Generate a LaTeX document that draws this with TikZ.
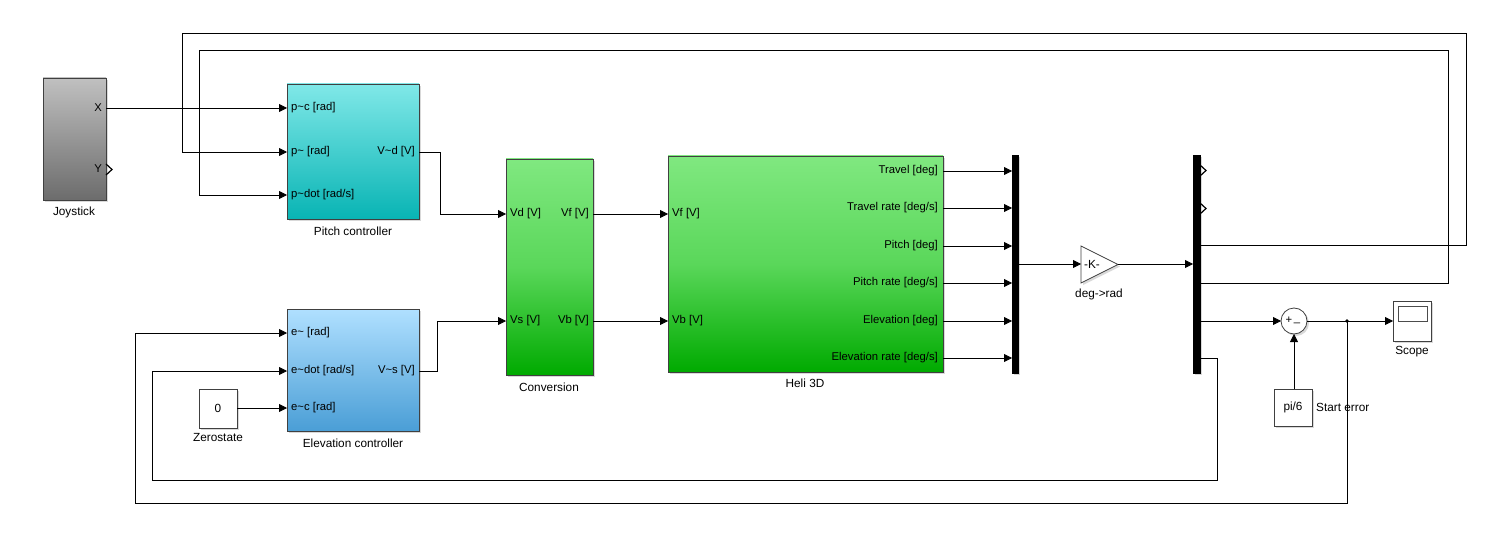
\documentclass[tikz,border=0pt]{standalone}
\usepackage{fontspec}
\setmainfont{Liberation Sans}
\usetikzlibrary{arrows.meta,shadows}
\begin{document}
\begin{tikzpicture}[x=1pt,y=-1pt,
  font=\fontsize{11.8}{13}\selectfont,
  blk/.style={draw=black!75, line width=0.8pt, inner sep=0pt, outer sep=0pt,
    drop shadow={opacity=0.3,shadow xshift=2pt,shadow yshift=-2pt}},
  wire/.style={line width=0.8pt},
  sig/.style={wire, -{Triangle[length=8pt,width=8pt]}},
  plab/.style={inner sep=0pt, font=\fontsize{11.3}{12}\selectfont},
  blab/.style={inner sep=0pt},
  openport/.style={line width=1.2pt, line join=miter},
]
\useasboundingbox (0,0) rectangle (1495,540);

% ---------- blocks ----------
\node[blk, minimum width=63pt, minimum height=122pt, top color={rgb,255:red,192;green,192;blue,192}, bottom color={rgb,255:red,108;green,108;blue,108}] (joy) at (74.5,139) {};
\node[blk, minimum width=132pt, minimum height=135pt, top color={rgb,255:red,128;green,232;blue,232}, bottom color={rgb,255:red,8;green,180;blue,180}] (pc) at (353,151.5) {};
\node[blk, minimum width=132pt, minimum height=122pt, top color={rgb,255:red,176;green,224;blue,255}, bottom color={rgb,255:red,74;green,158;blue,214}] (ec) at (353,370) {};
\node[blk, minimum width=38pt, minimum height=39pt, fill=white] (zero) at (218,408.5) {0};
\node[blk, minimum width=87pt, minimum height=216pt, top color={rgb,255:red,128;green,232;blue,128}, bottom color={rgb,255:red,0;green,170;blue,0}, middle color={rgb,255:red,90;green,215;blue,90}] (conv) at (549.5,267) {};
\node[blk, minimum width=275pt, minimum height=216pt, top color={rgb,255:red,128;green,232;blue,128}, bottom color={rgb,255:red,0;green,170;blue,0}, middle color={rgb,255:red,90;green,215;blue,90}] (heli) at (805.5,264) {};
\node[blk, minimum width=6pt, minimum height=218pt, fill=black, draw=black] (mux) at (1015,264) {};
\node[blk, minimum width=7pt, minimum height=218pt, fill=black, draw=black] (demux) at (1196.5,264) {};
\node[blk, circle, minimum size=26pt, fill=white] (sum) at (1294,321) {};
\node[blk, minimum width=38pt, minimum height=37pt, fill=white] (pi6) at (1293,407.5) {pi/6};
\node[blk, minimum width=38pt, minimum height=40pt, fill=white] (scope) at (1412,321) {};
\node[draw=black!70, line width=0.8pt, fill=white, minimum width=29pt, minimum height=15pt, inner sep=0pt] (screen) at (1412.5,313.5) {};
\fill[black!30, drop shadow={opacity=0.3,shadow xshift=2pt,shadow yshift=-2pt}] (1081,246) -- (1118,264.5) -- (1081,283) -- cycle;
\draw[line width=0.8pt, draw=black!75, fill=white] (1081,246) -- (1118,264.5) -- (1081,283) -- cycle;
\node[blab] (gaink) at (1092,264) {-K-};
\coordinate (gainin) at (1081,264);
\coordinate (gainout) at (1118,264);

% ---------- block labels ----------
\node[blab] (joyl) at (74,212) {Joystick};
\node[blab] (pcl) at (353,231) {Pitch controller};
\node[blab] (ecl) at (353,443) {Elevation controller};
\node[blab] (zerol) at (218,437) {Zerostate};
\node[blab] (convl) at (549,387) {Conversion};
\node[blab] (helil) at (805,383) {Heli 3D};
\node[blab] (gainl) at (1099,294) {deg->rad};
\node[blab] (scopel) at (1412,352) {Scope};
\node[blab, anchor=west] (pi6l) at (1316,407) {Start error};
\node[plab] (sumplus) at (1289,320) {+};
\node[plab] (summinus) at (1297,323) {\_};

% ---------- port labels ----------
\node[plab, anchor=east] (joyX) at (102,108) {X};
\node[plab, anchor=east] (joyY) at (102,169) {Y};
\node[plab, anchor=west] (pcl1) at (291,108) {p\textasciitilde c [rad]};
\node[plab, anchor=west] (pcl2) at (291,152) {p\textasciitilde\ [rad]};
\node[plab, anchor=west] (pcl3) at (291,195) {p\textasciitilde dot [rad/s]};
\node[plab, anchor=east] (pclo) at (415,152) {V\textasciitilde d [V]};
\node[plab, anchor=west] (ecl1) at (291,333) {e\textasciitilde\ [rad]};
\node[plab, anchor=west] (ecl2) at (291,371) {e\textasciitilde dot [rad/s]};
\node[plab, anchor=west] (ecl3) at (291,408) {e\textasciitilde c [rad]};
\node[plab, anchor=east] (eclo) at (415,371) {V\textasciitilde s [V]};
\node[plab, anchor=west] (cvl1) at (510,214) {Vd [V]};
\node[plab, anchor=west] (cvl2) at (510,321) {Vs [V]};
\node[plab, anchor=east] (cvo1) at (589,214) {Vf [V]};
\node[plab, anchor=east] (cvo2) at (589,321) {Vb [V]};
\node[plab, anchor=west] (hl1) at (672,214) {Vf [V]};
\node[plab, anchor=west] (hl2) at (672,321) {Vb [V]};
\node[plab, anchor=east] (ho1) at (938,171) {Travel [deg]};
\node[plab, anchor=east] (ho2) at (938,208) {Travel rate [deg/s]};
\node[plab, anchor=east] (ho3) at (938,246) {Pitch [deg]};
\node[plab, anchor=east] (ho4) at (938,283) {Pitch rate [deg/s]};
\node[plab, anchor=east] (ho5) at (938,321) {Elevation [deg]};
\node[plab, anchor=east] (ho6) at (938,358) {Elevation rate [deg/s]};

% ---------- port coordinates ----------
\coordinate (joyXo) at (106,108);
\coordinate (joyYo) at (106,169);
\coordinate (pcI1) at (287,108);
\coordinate (pcI2) at (287,152);
\coordinate (pcI3) at (287,195);
\coordinate (pcO) at (419,152);
\coordinate (ecI1) at (287,333);
\coordinate (ecI2) at (287,371);
\coordinate (ecI3) at (287,408);
\coordinate (ecO) at (419,371);
\coordinate (cvI1) at (506,214);
\coordinate (cvI2) at (506,321);
\coordinate (cvO1) at (593,214);
\coordinate (cvO2) at (593,321);
\coordinate (hI1) at (668,214);
\coordinate (hI2) at (668,321);
\foreach \i/\y in {1/171,2/208,3/246,4/283,5/321,6/358}{
  \coordinate (hO\i) at (943,\y);
  \coordinate (mI\i) at (1012,\y);
}
\coordinate (mO) at (1018,264);
\coordinate (dI) at (1193,264);
\foreach \i/\y in {1/170,2/208,3/245,4/283,5/321,6/358}{
  \coordinate (dO\i) at (1200,\y);
}
\coordinate (sumI) at (1281,321);
\coordinate (sumB) at (1294,334);
\coordinate (sumO) at (1307,321);
\coordinate (scI) at (1393,321);
\coordinate (piT) at (1294,389);
\coordinate (zeroO) at (237,408);
\coordinate (jn) at (1347,321);

% ---------- open ports ----------
\draw[openport] (106,164) -- (112,169.5) -- (106,175);
\draw[openport] (1200,165) -- (1206,170.5) -- (1200,176);
\draw[openport] (1200,203) -- (1206,208.5) -- (1200,214);

% ---------- connectors ----------
\draw[sig] (joyXo) -- (pcI1);
\draw[sig] (pcO) -- (440,152) -- (440,214) -- (cvI1);
\draw[sig] (ecO) -- (437,371) -- (437,321) -- (cvI2);
\draw[sig] (cvO1) -- (hI1);
\draw[sig] (cvO2) -- (hI2);
\foreach \i in {1,...,6}{ \draw[sig] (hO\i) -- (mI\i); }
\draw[sig] (mO) -- (gainin);
\draw[sig] (gainout) -- (dI);
\draw[sig] (dO3) -- (1466,245) -- (1466,33) -- (182,33) -- (182,152) -- (pcI2);
\draw[sig] (dO4) -- (1448,283) -- (1448,50) -- (199,50) -- (199,195) -- (pcI3);
\draw[sig] (dO5) -- (sumI);
\draw[sig] (piT) -- (sumB);
\draw[sig] (sumO) -- (scI);
\fill (jn) circle (1.8pt);
\draw[sig] (jn) -- (1347,503) -- (135,503) -- (135,333) -- (ecI1);
\draw[sig] (dO6) -- (1217,358) -- (1217,480) -- (152,480) -- (152,371) -- (ecI2);
\draw[sig] (zeroO) -- (ecI3);
\end{tikzpicture}
\end{document}
